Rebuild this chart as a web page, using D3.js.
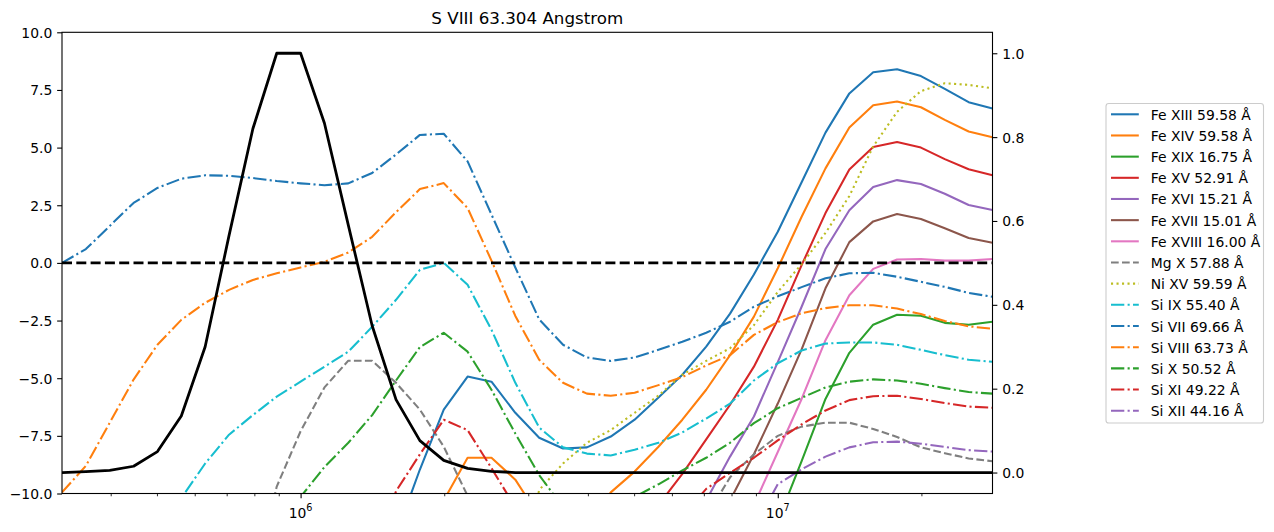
<!DOCTYPE html>
<html>
<head>
<meta charset="utf-8">
<script src="https://cdn.jsdelivr.net/npm/d3@7"></script>
<style>
  body { margin: 0; background: white; }
  text { font-family: "DejaVu Sans", sans-serif; fill: black; }
</style>
</head>
<body>
<div id="container"></div>
<script>
let w = 1274;
let h = 532;

// log10 of temperature, one entry per sample
let logT = [
  5.50, 5.55, 5.60, 5.65, 5.70, 5.75, 5.80, 5.85, 5.90, 5.95,
  6.00, 6.05, 6.10, 6.15, 6.20, 6.25, 6.30, 6.35, 6.40, 6.45,
  6.50, 6.55, 6.60, 6.65, 6.70, 6.75, 6.80, 6.85, 6.90, 6.95,
  7.00, 7.05, 7.10, 7.15, 7.20, 7.25, 7.30, 7.35, 7.40, 7.45
];

// line ratios (left axis). -20 = far below the plotted range
let feXIII = [
  -20, -20, -20, -20, -20, -20, -20, -20, -20, -20,
  -20, -20, -20, -20, -11.8, -8.96, -6.36, -4.93, -5.15, -6.5,
  -7.58, -8.05, -8.0, -7.53, -6.8, -5.84, -4.85, -3.63, -2.2, -0.5,
  1.35, 3.5, 5.65, 7.35, 8.27, 8.4, 8.1, 7.55, 6.97, 6.7
];
let feXIV = [
  -20, -20, -20, -20, -20, -20, -20, -20, -20, -20,
  -20, -20, -20, -20, -20, -14, -10.3, -8.45, -8.45, -9.4,
  -11, -12.5, -11.5, -9.95, -9.05, -7.97, -6.8, -5.5, -4.0, -2.33,
  -0.23, 2.0, 4.1, 5.87, 6.84, 7.0, 6.75, 6.2, 5.7, 5.45
];
let feXIX = [
  -20, -20, -20, -20, -20, -20, -20, -20, -20, -20,
  -20, -20, -20, -20, -20, -20, -20, -20, -20, -20,
  -20, -20, -20, -20, -20, -20, -20, -20, -20, -20,
  -11.2, -8.6, -5.9, -3.9, -2.68, -2.25, -2.29, -2.6, -2.68, -2.55
];
let feXV = [
  -20, -20, -20, -20, -20, -20, -20, -20, -20, -20,
  -20, -20, -20, -20, -20, -20, -20, -20, -20, -20,
  -20, -20, -20, -20, -20, -10.5, -9.15, -7.65, -6.15, -4.5,
  -2.47, -0.1, 2.16, 4.05, 5.03, 5.24, 5.0, 4.5, 4.06, 3.8
];
let feXVI = [
  -20, -20, -20, -20, -20, -20, -20, -20, -20, -20,
  -20, -20, -20, -20, -20, -20, -20, -20, -20, -20,
  -20, -20, -20, -20, -20, -20, -20, -10.3, -8.4, -6.66,
  -4.3, -1.9, 0.6, 2.28, 3.29, 3.59, 3.42, 3.0, 2.51, 2.29
];
let feXVII = [
  -20, -20, -20, -20, -20, -20, -20, -20, -20, -20,
  -20, -20, -20, -20, -20, -20, -20, -20, -20, -20,
  -20, -20, -20, -20, -20, -20, -20, -20, -10.3, -8.3,
  -6.1, -3.75, -1.1, 0.9, 1.8, 2.12, 1.9, 1.5, 1.08, 0.87
];
let feXVIII = [
  -20, -20, -20, -20, -20, -20, -20, -20, -20, -20,
  -20, -20, -20, -20, -20, -20, -20, -20, -20, -20,
  -20, -20, -20, -20, -20, -20, -20, -20, -20, -10.5,
  -8.2, -5.9, -3.35, -1.4, -0.26, 0.15, 0.17, 0.1, 0.1, 0.17
];
let mgX = [
  -20, -20, -20, -20, -20, -20, -20, -20, -14, -9.7,
  -7.3, -5.4, -4.24, -4.24, -5.2, -6.36, -7.97, -10.1, -13, -20,
  -20, -20, -20, -20, -20, -20, -20, -11, -9.3, -8.3,
  -7.5, -7.1, -6.93, -6.93, -7.2, -7.55, -8.0, -8.25, -8.48, -8.6
];
let niXV = [
  -20, -20, -20, -20, -20, -20, -20, -20, -20, -20,
  -20, -20, -20, -20, -20, -20, -20, -20, -20, -14,
  -9.85, -8.7, -7.8, -7.25, -6.5, -5.75, -4.85, -4.25, -3.7, -2.7,
  -1.26, -0.05, 1.3, 2.9, 5.05, 6.55, 7.45, 7.79, 7.72, 7.57
];
let siIX = [
  -20, -20, -20, -20, -20, -10.2, -8.7, -7.45, -6.6, -5.8,
  -5.15, -4.5, -3.85, -2.77, -1.6, -0.3, 0.0, -0.95, -2.9, -5.2,
  -7.14, -8.0, -8.27, -8.35, -8.1, -7.8, -7.35, -6.75, -6.1, -5.1,
  -4.35, -3.8, -3.5, -3.45, -3.45, -3.55, -3.77, -4.0, -4.2, -4.29
];
let siVII = [
  0.0, 0.6, 1.6, 2.6, 3.25, 3.65, 3.8, 3.78, 3.68, 3.55,
  3.45, 3.37, 3.45, 3.9, 4.7, 5.55, 5.6, 4.4, 2.1, -0.2,
  -2.45, -3.55, -4.1, -4.25, -4.1, -3.77, -3.42, -3.03, -2.55, -1.9,
  -1.45, -1.05, -0.67, -0.45, -0.43, -0.6, -0.82, -1.04, -1.3, -1.47
];
let siVIII = [
  -9.95, -8.8, -6.93, -5.06, -3.55, -2.47, -1.73, -1.17, -0.74, -0.45,
  -0.2, 0.05, 0.45, 1.13, 2.2, 3.2, 3.46, 2.38, 0.1, -2.3,
  -4.2, -5.2, -5.67, -5.76, -5.63, -5.3, -4.95, -4.45, -4.0, -3.12,
  -2.57, -2.18, -1.96, -1.84, -1.84, -1.98, -2.22, -2.52, -2.75, -2.86
];
let siX = [
  -20, -20, -20, -20, -20, -20, -20, -20, -20, -20,
  -10.15, -8.85, -7.8, -6.6, -5.1, -3.65, -3.03, -3.85, -5.5, -7.4,
  -9.2, -10.6, -14, -14, -10.15, -9.6, -9.0, -8.45, -7.8, -6.95,
  -6.3, -5.85, -5.4, -5.15, -5.05, -5.1, -5.24, -5.43, -5.6, -5.67
];
let siXI = [
  -20, -20, -20, -20, -20, -20, -20, -20, -20, -20,
  -20, -20, -20, -13, -9.9, -8.3, -6.8, -7.25, -8.9, -10.6,
  -20, -20, -20, -20, -20, -20, -11, -9.8, -9.1, -8.45,
  -7.7, -7.0, -6.4, -5.95, -5.78, -5.76, -5.9, -6.08, -6.23, -6.28
];
let siXII = [
  -20, -20, -20, -20, -20, -20, -20, -20, -20, -20,
  -20, -20, -20, -20, -20, -20, -20, -20, -20, -20,
  -20, -20, -20, -20, -20, -20, -20, -20, -20, -11.5,
  -9.6, -8.95, -8.4, -8.0, -7.78, -7.75, -7.84, -7.98, -8.12, -8.18
];

// normalised contribution function of S VIII (right axis)
let contribution = [
  0.0, 0.002, 0.005, 0.015, 0.05, 0.135, 0.30, 0.565, 0.82, 1.0,
  1.0, 0.833, 0.59, 0.35, 0.174, 0.076, 0.029, 0.01, 0.003, 0.0,
  0.0, 0.0, 0.0, 0.0, 0.0, 0.0, 0.0, 0.0, 0.0, 0.0,
  0.0, 0.0, 0.0, 0.0, 0.0, 0.0, 0.0, 0.0, 0.0, 0.0
];

let lineNames = [
  "Fe XIII 59.58 Å", "Fe XIV 59.58 Å", "Fe XIX 16.75 Å", "Fe XV 52.91 Å",
  "Fe XVI 15.21 Å", "Fe XVII 15.01 Å", "Fe XVIII 16.00 Å", "Mg X 57.88 Å",
  "Ni XV 59.59 Å", "Si IX 55.40 Å", "Si VII 69.66 Å", "Si VIII 63.73 Å",
  "Si X 50.52 Å", "Si XI 49.22 Å", "Si XII 44.16 Å"
];
let lineValues = [feXIII, feXIV, feXIX, feXV, feXVI, feXVII, feXVIII, mgX, niXV, siIX, siVII, siVIII, siX, siXI, siXII];

let leftTicks = [-10, -7.5, -5, -2.5, 0, 2.5, 5, 7.5, 10];
let rightTicks = [0, 0.2, 0.4, 0.6, 0.8, 1.0];
let majorT = [1e6, 1e7];
let minorT = [4e5, 5e5, 6e5, 7e5, 8e5, 9e5, 2e6, 3e6, 4e6, 5e6, 6e6, 7e6, 8e6, 9e6, 2e7];

// styles
let palette = ["#1f77b4", "#ff7f0e", "#2ca02c", "#d62728", "#9467bd", "#8c564b", "#e377c2", "#7f7f7f", "#bcbd22", "#17becf"];
let lineKinds = ["solid", "solid", "solid", "solid", "solid", "solid", "solid", "dashed", "dotted",
  "dashdot", "dashdot", "dashdot", "dashdot", "dashdot", "dashdot"];
let dashFor = { solid: null, dashed: "7.7 3.3", dotted: "2.1 3.4", dashdot: "13.3 3.3 2.1 3.3" };

let series = lineNames.map(function (name, i) {
  return { name: name, values: lineValues[i], color: palette[i % 10], kind: lineKinds[i] };
});

let plotLeft = 62;
let plotRight = 992.5;
let plotTop = 32.3;
let plotBottom = 493.5;
let fontSize = 13.9;

let viz = d3.select("#container")
  .append("svg")
  .attr("width", w)
  .attr("height", h)
  .style("background-color", "white")
  ;

let temps = logT.map(function (v) { return Math.pow(10, v); });

// SCALES
let xScale = d3.scaleLog().domain([Math.pow(10, 5.5), Math.pow(10, 7.45)]).range([plotLeft, plotRight]);
let yScale = d3.scaleLinear().domain([-10, 10]).range([plotBottom, plotTop]);
let y2Scale = d3.scaleLinear().domain([-0.05, 1.05]).range([plotBottom, plotTop]);

viz.append("defs").append("clipPath").attr("id", "plotClip")
  .append("rect")
  .attr("x", plotLeft)
  .attr("y", plotTop)
  .attr("width", plotRight - plotLeft)
  .attr("height", plotBottom - plotTop)
  ;

let vizGroup = viz.append("g").attr("class", "vizGroup").attr("clip-path", "url(#plotClip)");

let lineMaker = d3.line()
  .x(function (d, i) { return xScale(temps[i]); })
  .y(function (d) { return yScale(d); })
  ;

vizGroup.selectAll(".ratio").data(series).enter()
  .append("path")
  .attr("class", "ratio")
  .attr("d", function (d) { return lineMaker(d.values); })
  .attr("fill", "none")
  .attr("stroke", function (d) { return d.color; })
  .attr("stroke-width", 2.08)
  .attr("stroke-dasharray", function (d) { return dashFor[d.kind]; })
  .attr("stroke-linejoin", "round")
  ;

// zero line
vizGroup.append("line")
  .attr("x1", plotLeft)
  .attr("x2", plotRight)
  .attr("y1", yScale(0))
  .attr("y2", yScale(0))
  .attr("stroke", "black")
  .attr("stroke-width", 2.6)
  .attr("stroke-dasharray", "10 4.3")
  ;

// contribution function on the twin axis
let gLine = d3.line()
  .x(function (d, i) { return xScale(temps[i]); })
  .y(function (d) { return y2Scale(d); })
  ;

vizGroup.append("path")
  .attr("d", gLine(contribution))
  .attr("fill", "none")
  .attr("stroke", "black")
  .attr("stroke-width", 2.78)
  .attr("stroke-linejoin", "round")
  ;

// AXES
function styleAxis(group) {
  group.select(".domain").remove();
  group.selectAll(".tick line").attr("stroke", "black").attr("stroke-width", 1.1);
  group.selectAll(".tick text")
    .attr("font-family", "DejaVu Sans")
    .attr("font-size", fontSize)
    .attr("fill", "black")
    ;
  group.attr("font-family", null).attr("font-size", null);
}

function minusFormat(fmt) {
  return function (d) { return fmt(d).replace("-", "\u2212"); };
}

let yAxisGroup = viz.append("g").attr("class", "yaxis")
  .attr("transform", "translate(" + plotLeft + ", 0)");
yAxisGroup.call(d3.axisLeft(yScale).tickValues(leftTicks).tickSize(4.86).tickPadding(4.86)
  .tickFormat(minusFormat(d3.format(".1f"))));
styleAxis(yAxisGroup);
yAxisGroup.selectAll(".tick text").attr("dy", null).attr("y", 5);

let y2AxisGroup = viz.append("g").attr("class", "y2axis")
  .attr("transform", "translate(" + plotRight + ", 0)");
y2AxisGroup.call(d3.axisRight(y2Scale).tickValues(rightTicks).tickSize(4.86).tickPadding(4.86)
  .tickFormat(d3.format(".1f")));
styleAxis(y2AxisGroup);
y2AxisGroup.selectAll(".tick text").attr("dy", null).attr("y", 5);

let xAxisGroup = viz.append("g").attr("class", "xaxis")
  .attr("transform", "translate(0, " + plotBottom + ")");
xAxisGroup.call(d3.axisBottom(xScale).tickValues(majorT).tickSize(4.86).tickFormat(""));
styleAxis(xAxisGroup);

let xMinorGroup = viz.append("g").attr("class", "xminor")
  .attr("transform", "translate(0, " + plotBottom + ")");
xMinorGroup.call(d3.axisBottom(xScale).tickValues(minorT).tickSize(2.78).tickFormat(""));
styleAxis(xMinorGroup);
xMinorGroup.selectAll(".tick line").attr("stroke-width", 0.83);

// 10^n labels
let xLabels = viz.selectAll(".xlabel").data(majorT).enter()
  .append("text")
  .attr("class", "xlabel")
  .attr("x", function (d) { return xScale(d); })
  .attr("y", plotBottom + 24)
  .attr("text-anchor", "middle")
  .attr("font-size", fontSize)
  ;
xLabels.append("tspan").text("10");
xLabels.append("tspan")
  .attr("dy", -6.5)
  .attr("font-size", 9.7)
  .text(function (d) { return Math.round(Math.log10(d)); });

// frame
viz.append("rect")
  .attr("x", plotLeft)
  .attr("y", plotTop)
  .attr("width", plotRight - plotLeft)
  .attr("height", plotBottom - plotTop)
  .attr("fill", "none")
  .attr("stroke", "black")
  .attr("stroke-width", 1.1)
  ;

// title
viz.append("text")
  .attr("x", (plotLeft + plotRight) / 2)
  .attr("y", plotTop - 8.3)
  .attr("text-anchor", "middle")
  .attr("font-size", 16.7)
  .text("S VIII 63.304 Angstrom")
  ;

// LEGEND
let legend = viz.append("g").attr("class", "legend");
legend.append("rect")
  .attr("x", 1106)
  .attr("y", 103.5)
  .attr("width", 157.5)
  .attr("height", 319.5)
  .attr("rx", 2.8)
  .attr("fill", "white")
  .attr("fill-opacity", 0.8)
  .attr("stroke", "#cccccc")
  .attr("stroke-width", 1.1)
  ;

let rows = legend.selectAll(".row").data(series).enter()
  .append("g")
  .attr("class", "row")
  .attr("transform", function (d, i) { return "translate(1111, " + (114.3 + 21.17 * i) + ")"; })
  ;
rows.append("line")
  .attr("x1", 0)
  .attr("x2", 27.8)
  .attr("stroke", function (d) { return d.color; })
  .attr("stroke-width", 2.08)
  .attr("stroke-dasharray", function (d) { return dashFor[d.kind]; })
  ;
rows.append("text")
  .attr("x", 39.7)
  .attr("y", 5.5)
  .attr("font-size", fontSize)
  .text(function (d) { return d.name; })
  ;
</script>
</body>
</html>
